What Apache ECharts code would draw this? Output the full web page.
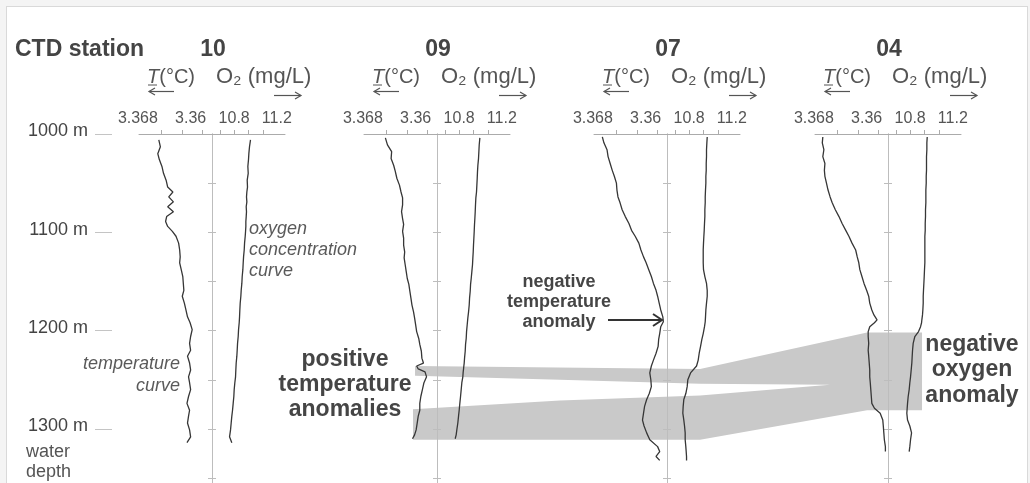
<!DOCTYPE html>
<html>
<head>
<meta charset="utf-8">
<script src="https://cdn.jsdelivr.net/npm/echarts@6/dist/echarts.min.js"></script>
<style>
html,body{margin:0;padding:0;background:#f4f4f4;}
#frame{position:absolute;left:6px;top:6px;width:1020px;height:520px;background:#fff;border:1px solid #d9d9d9;}
#c{position:absolute;left:0;top:0;width:1030px;height:483px;}
</style>
</head>
<body>
<div id="frame"></div>
<div id="c"></div>
<script>
// ---------------- data ----------------
const stations = ['10', '09', '07', '04'];

const depth10 = [1006,1013,1020,1026,1033,1040,1047,1054,1059,1064,1069,1074,1079,1084,1089,1094,1099,1104,1111,1118,1125,1131,1138,1145,1152,1159,1165,1172,1179,1186,1192,1199,1206,1213,1220,1226,1233,1240,1247,1253,1260,1267,1274,1281,1287,1294,1301,1308,1314];
const temp10 = [3.3684,3.3681,3.3686,3.3683,3.3678,3.3675,3.3670,3.3667,3.3657,3.3665,3.3656,3.3667,3.3656,3.3669,3.3671,3.3667,3.3658,3.3651,3.3646,3.3644,3.3643,3.3644,3.3641,3.3638,3.3637,3.3636,3.3639,3.3635,3.3632,3.3629,3.3624,3.3620,3.3623,3.3625,3.3623,3.3629,3.3625,3.3623,3.3627,3.3625,3.3623,3.3627,3.3630,3.3625,3.3627,3.3629,3.3625,3.3623,3.3630];
const oxy10 = [11.028,11.014,11.005,11.000,10.991,10.996,10.982,10.986,10.977,10.972,10.977,10.968,10.972,10.968,10.963,10.963,10.959,10.954,10.945,10.940,10.931,10.926,10.921,10.912,10.907,10.898,10.893,10.884,10.879,10.875,10.870,10.861,10.856,10.847,10.842,10.837,10.828,10.823,10.819,10.809,10.800,10.795,10.786,10.777,10.767,10.758,10.749,10.735,10.767];

const depth09 = [1004,1011,1018,1025,1032,1038,1045,1052,1059,1065,1072,1079,1086,1092,1099,1106,1113,1120,1126,1133,1140,1147,1153,1160,1167,1174,1181,1187,1194,1201,1208,1214,1221,1228,1233,1236,1239,1242,1247,1253,1260,1267,1274,1281,1287,1294,1301,1306,1310];
const temp09 = [3.3681,3.3677,3.3669,3.3670,3.3665,3.3662,3.3659,3.3654,3.3651,3.3648,3.3648,3.3650,3.3648,3.3646,3.3648,3.3646,3.3646,3.3644,3.3645,3.3643,3.3641,3.3639,3.3636,3.3634,3.3632,3.3630,3.3627,3.3625,3.3623,3.3621,3.3617,3.3615,3.3612,3.3611,3.3608,3.3621,3.3618,3.3605,3.3602,3.3607,3.3610,3.3613,3.3615,3.3615,3.3618,3.3620,3.3622,3.3625,3.3629];
const oxy09 = [11.089,11.080,11.075,11.070,11.061,11.056,11.052,11.047,11.042,11.033,11.028,11.024,11.019,11.014,11.010,11.005,11.000,10.996,10.991,10.986,10.977,10.968,10.959,10.954,10.945,10.940,10.931,10.921,10.912,10.903,10.898,10.889,10.884,10.875,10.870,10.865,10.861,10.856,10.851,10.837,10.828,10.819,10.809,10.800,10.791,10.781,10.767,10.758,10.744];

const depth07 = [1003,1009,1016,1023,1030,1037,1043,1050,1057,1064,1070,1077,1084,1091,1098,1104,1111,1118,1125,1131,1138,1145,1152,1159,1165,1172,1179,1186,1191,1196,1203,1209,1216,1223,1230,1236,1243,1250,1257,1264,1270,1277,1284,1291,1297,1304,1311,1318,1323,1328,1332];
const temp07 = [3.3706,3.3703,3.3697,3.3695,3.3691,3.3687,3.3683,3.3679,3.3678,3.3676,3.3672,3.3668,3.3662,3.3655,3.3650,3.3643,3.3636,3.3632,3.3627,3.3622,3.3617,3.3612,3.3608,3.3603,3.3600,3.3597,3.3594,3.3590,3.3589,3.3594,3.3596,3.3598,3.3599,3.3603,3.3608,3.3612,3.3615,3.3613,3.3612,3.3616,3.3621,3.3625,3.3627,3.3629,3.3626,3.3621,3.3615,3.3600,3.3596,3.3603,3.3596];
const oxy07 = [11.052,11.047,11.042,11.042,11.038,11.038,11.033,11.033,11.028,11.024,11.024,11.019,11.019,11.014,11.010,11.005,11.000,10.996,10.996,10.996,11.000,11.019,11.042,11.052,11.052,11.042,11.033,11.028,11.024,11.014,10.996,10.977,10.959,10.940,10.926,10.903,10.819,10.781,10.772,10.753,10.725,10.716,10.711,10.725,10.735,10.744,10.744,10.753,10.758,10.763,10.763];

const depth04 = [1003,1009,1016,1023,1030,1037,1043,1050,1057,1064,1070,1077,1084,1091,1098,1104,1111,1118,1125,1131,1138,1145,1152,1159,1165,1172,1179,1184,1189,1192,1196,1201,1206,1213,1220,1226,1233,1240,1247,1253,1260,1267,1274,1279,1284,1291,1297,1304,1311,1318,1323];
const temp04 = [3.3707,3.3708,3.3705,3.3707,3.3703,3.3704,3.3703,3.3700,3.3697,3.3693,3.3689,3.3683,3.3676,3.3670,3.3663,3.3657,3.3651,3.3644,3.3641,3.3638,3.3636,3.3632,3.3628,3.3623,3.3619,3.3617,3.3613,3.3609,3.3603,3.3608,3.3617,3.3620,3.3620,3.3619,3.3620,3.3619,3.3618,3.3617,3.3617,3.3616,3.3615,3.3614,3.3613,3.3608,3.3597,3.3592,3.3591,3.3590,3.3589,3.3587,3.3587];
const oxy04 = [11.038,11.033,11.033,11.028,11.028,11.028,11.024,11.024,11.019,11.019,11.019,11.014,11.014,11.010,11.010,11.005,11.005,11.005,11.005,11.005,11.000,10.996,10.991,10.986,10.982,10.982,10.977,10.972,10.963,10.959,10.945,10.917,10.865,10.842,10.833,10.828,10.823,10.814,10.805,10.795,10.786,10.772,10.763,10.758,10.753,10.763,10.795,10.819,10.805,10.795,10.786];

// temperature / oxygen axis ticks and labels
const tempTicks = [3.368, 3.364, 3.36];
const tempLabels = [3.368, 3.36];
const oxyTicks = [10.6, 10.8, 11.0, 11.2];
const oxyLabels = [10.8, 11.2];
const depthLabels = [1000, 1100, 1200, 1300];
const depthTicks = [1050, 1100, 1150, 1200, 1250, 1300, 1350];

// anomaly bands: station position (0 = st.10 ... 3 = st.04) and depth (m)
const anomalyBandStation = [0.901, 2.166, 2.907, 3.151, 3.151, 2.907, 2.166, 0.892, 0.892, 1.544, 2.166, 2.743, 2.166, 1.544, 0.901];
const anomalyBandDepth   = [1236, 1239, 1202, 1202, 1281, 1281, 1311, 1311, 1280, 1271, 1266, 1255, 1254, 1250, 1246];

const profiles = [
  {depth: depth10, temp: temp10, oxy: oxy10},
  {depth: depth09, temp: temp09, oxy: oxy09},
  {depth: depth07, temp: temp07, oxy: oxy07},
  {depth: depth04, temp: temp04, oxy: oxy04}
];

// ---------------- layout ----------------
const W = 1030, H = 483, TOP = 134;
const centers = [212, 437, 667, 888];
const HALF = 73;
const DEPTH_MIN = 1000, DEPTH_MAX = 1355;
const T_MIN = 3.3582, T_MAX = 3.3722;
const O_MIN = 10.49, O_MAX = 11.51;
const FONT = '"Liberation Sans", Arial, Helvetica, sans-serif';
const AX = '#ababab';
const CURVE = '#363636';

const scale = (centers[3] - centers[0]) / 3;
const posMin = -centers[0] / scale;
const posMax = posMin + W / scale;

const grid = [
  {left: 0, top: TOP, width: W, height: H - TOP},
  {left: 112, top: TOP, width: 1, height: H - TOP}
];
const xAxis = [
  {gridIndex: 0, type: 'value', min: posMin, max: posMax, show: false},
  {gridIndex: 1, type: 'value', min: 0, max: 1, show: false}
];
const yAxis = [
  {gridIndex: 0, type: 'value', inverse: true, min: DEPTH_MIN, max: DEPTH_MAX, show: false},
  {gridIndex: 1, type: 'value', inverse: true, min: DEPTH_MIN, max: DEPTH_MAX, position: 'left',
   axisLine: {show: false}, splitLine: {show: false},
   axisTick: {show: true, customValues: depthLabels, length: 17, lineStyle: {color: '#c4c4c4', width: 1}},
   axisLabel: {customValues: depthLabels, formatter: v => v + ' m', margin: 24, fontSize: 18, color: '#444',
               fontFamily: FONT, verticalAlign: 'bottom', lineHeight: 5}}
];

const series = [{
  type: 'custom', xAxisIndex: 0, yAxisIndex: 0, z: 1, silent: true,
  data: [[0, 0]],
  renderItem: function (params, api) {
    const pts = anomalyBandStation.map((s, i) => api.coord([s, anomalyBandDepth[i]]));
    return {type: 'polygon', shape: {points: pts}, style: {fill: '#c9c9c9'}};
  }
}];

const richLbl = (pad) => ({fontSize: 16, color: '#555', fontFamily: FONT, padding: pad});

centers.forEach((c, i) => {
  const gT = grid.length, gO = gT + 1;
  grid.push({left: c - HALF, top: TOP, width: HALF, height: H - TOP});
  grid.push({left: c, top: TOP, width: HALF, height: H - TOP});
  xAxis.push({
    gridIndex: gT, type: 'value', position: 'top', inverse: true, min: T_MIN, max: T_MAX, z: 3,
    axisLine: {show: true, lineStyle: {color: AX, width: 1}},
    axisTick: {show: true, customValues: tempTicks, length: 4, lineStyle: {color: AX}},
    axisLabel: {customValues: tempLabels, margin: 7,
      formatter: v => (v > 3.364 ? '{a|' + v + '}' : '{b|' + v + '}'),
      rich: {a: richLbl([0, 46, 0, 0]), b: richLbl([0, 24, 0, 0])}},
    splitLine: {show: false}
  });
  xAxis.push({
    gridIndex: gO, type: 'value', position: 'top', min: O_MIN, max: O_MAX, z: 3,
    axisLine: {show: true, lineStyle: {color: AX, width: 1}},
    axisTick: {show: true, customValues: oxyTicks, length: 4, lineStyle: {color: AX}},
    axisLabel: {customValues: oxyLabels, margin: 7,
      formatter: v => (v < 11 ? '{c|' + v.toFixed(1) + '}' : '{d|' + v.toFixed(1) + '}'),
      rich: {c: richLbl([0, 0, 0, 0]), d: richLbl([0, 0, 0, 28])}},
    splitLine: {show: false}
  });
  yAxis.push({
    gridIndex: gT, type: 'value', inverse: true, min: DEPTH_MIN, max: DEPTH_MAX, position: 'right', z: 3,
    axisLine: {show: true, lineStyle: {color: '#bdbdbd', width: 1}},
    axisTick: {show: true, customValues: depthTicks, length: 4, lineStyle: {color: '#bdbdbd'}},
    axisLabel: {show: false}, splitLine: {show: false}
  });
  yAxis.push({
    gridIndex: gO, type: 'value', inverse: true, min: DEPTH_MIN, max: DEPTH_MAX, position: 'left', z: 3,
    axisLine: {show: true, lineStyle: {color: '#bdbdbd', width: 1}},
    axisTick: {show: true, customValues: depthTicks, length: 4, lineStyle: {color: '#bdbdbd'}},
    axisLabel: {show: false}, splitLine: {show: false}
  });
  const p = profiles[i];
  series.push({
    name: 'T ' + stations[i], type: 'line', xAxisIndex: gT, yAxisIndex: gT, z: 4,
    showSymbol: false, symbol: 'none', clip: false, silent: true,
    lineStyle: {color: CURVE, width: 1.3},
    data: p.temp.map((t, k) => [t, p.depth[k]])
  });
  series.push({
    name: 'O2 ' + stations[i], type: 'line', xAxisIndex: gO, yAxisIndex: gO, z: 4,
    showSymbol: false, symbol: 'none', clip: false, silent: true,
    lineStyle: {color: CURVE, width: 1.3},
    data: p.oxy.map((o, k) => [o, p.depth[k]])
  });
});

// ---------------- text annotations ----------------
const graphic = [];
const txt = (x, y, text, opts) => graphic.push({
  type: 'text', x: x, y: y, silent: true, z: 10,
  style: Object.assign({text: text, fontFamily: FONT, fontSize: 16, fill: '#555',
                        align: 'left', verticalAlign: 'middle'}, opts || {})
});
const line = (pts, color, w) => graphic.push({
  type: 'polyline', silent: true, z: 10, shape: {points: pts},
  style: {stroke: color, lineWidth: w, fill: null}
});

txt(15, 50, 'CTD station', {fontSize: 23, fontWeight: 'bold', fill: '#444'});
centers.forEach((c, i) => {
  txt(c + 1, 50, stations[i], {fontSize: 23, fontWeight: 'bold', fill: '#444', align: 'center'});
  txt(c - 65, 77, '{i|T}(°C)', {fontSize: 20, rich: {i: {fontStyle: 'italic', fontSize: 20, fill: '#555', fontFamily: FONT}}});
  txt(c + 4, 77, 'O₂ (mg/L)', {fontSize: 22});
  line([[c - 64, 85], [c - 55, 85]], '#555', 1);
  line([[c - 63, 91.5], [c - 38, 91.5]], '#555', 1.2);
  line([[c - 57, 88], [c - 63, 91.5], [c - 57, 95]], '#555', 1.2);
  line([[c + 62, 95.5], [c + 89, 95.5]], '#555', 1.2);
  line([[c + 83, 92], [c + 89, 95.5], [c + 83, 99]], '#555', 1.2);
});
txt(249, 250, 'oxygen\nconcentration\ncurve', {fontSize: 18, fontStyle: 'italic', lineHeight: 21, fill: '#5a5a5a'});
txt(180, 375, 'temperature\ncurve', {fontSize: 18, fontStyle: 'italic', lineHeight: 22, align: 'right', fill: '#5a5a5a'});
txt(345, 385, 'positive\ntemperature\nanomalies', {fontSize: 23, fontWeight: 'bold', lineHeight: 25, align: 'center', fill: '#454545'});
txt(559, 302, 'negative\ntemperature\nanomaly', {fontSize: 18, fontWeight: 'bold', lineHeight: 20, align: 'center', fill: '#454545'});
txt(972, 370, 'negative\noxygen\nanomaly', {fontSize: 23, fontWeight: 'bold', lineHeight: 25.5, align: 'center', fill: '#454545'});
txt(26, 462, 'water\ndepth', {fontSize: 18, lineHeight: 20});
line([[608, 320], [661, 320]], '#333', 2);
line([[653, 314], [662, 320], [653, 326]], '#333', 2);

const chart = echarts.init(document.getElementById('c'), null, {renderer: 'canvas'});
chart.setOption({
  animation: false,
  backgroundColor: 'transparent',
  textStyle: {fontFamily: FONT},
  grid: grid, xAxis: xAxis, yAxis: yAxis, series: series, graphic: graphic
});
</script>
</body>
</html>
